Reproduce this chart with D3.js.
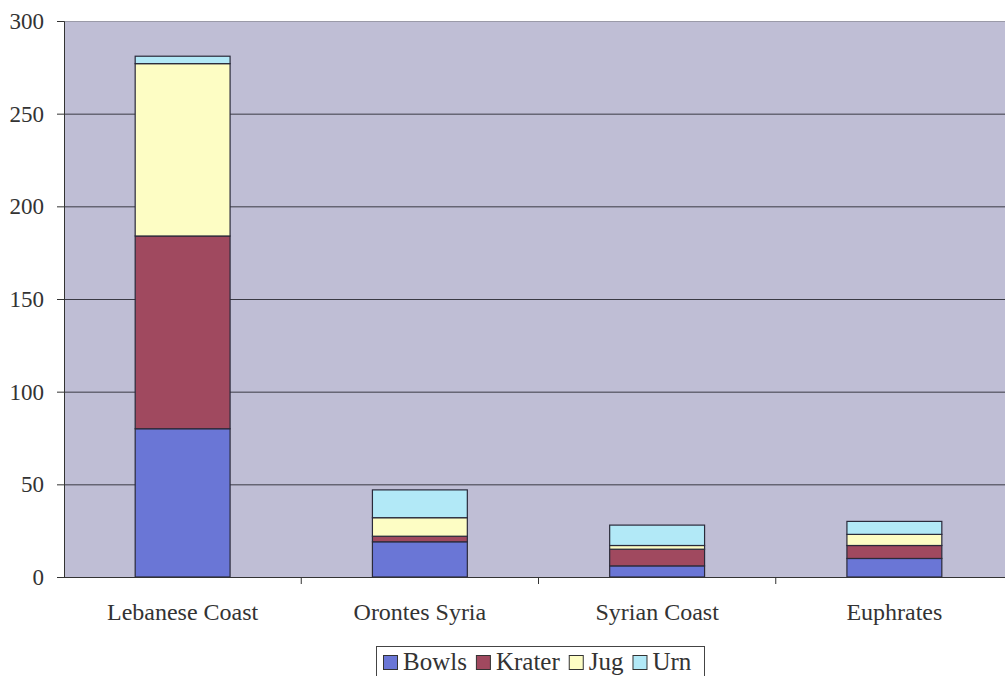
<!DOCTYPE html>
<html><head><meta charset="utf-8">
<script src="https://cdn.jsdelivr.net/npm/d3@7"></script>
<style>body{margin:0;background:#fff;overflow:hidden}svg{display:block}</style>
</head><body>
<svg id="c" width="1005" height="676" font-family="Liberation Serif"></svg>
<script>
const categories = ["Lebanese Coast", "Orontes Syria", "Syrian Coast", "Euphrates"];
const seriesNames = ["Bowls", "Krater", "Jug", "Urn"];
const bowls  = [80, 19, 6, 10];
const krater = [104, 3, 9, 7];
const jug    = [93, 10, 2, 6];
const urn    = [4, 15, 11, 7];
const yTicks = [0, 50, 100, 150, 200, 250, 300];
const colors = ["#6a76d6", "#a0495f", "#fdfdc4", "#b2e9f7"];

const seriesValues = [bowls, krater, jug, urn];
const table = categories.map((c, i) => {
  const o = {cat: c};
  seriesNames.forEach((s, j) => o[s] = seriesValues[j][i]);
  return o;
});
const stacked = d3.stack().keys(seriesNames)(table);

const FONT = "Liberation Serif";
const svg = d3.select("#c");
const L = 64, R = 1013, T = 21, B = 577;
const x = d3.scaleBand().domain(categories).range([L, R]).paddingInner(0.6).paddingOuter(0.3);
const y = d3.scaleLinear().domain([0, 300]).range([B, T]);

svg.append("rect").attr("x", L).attr("y", T).attr("width", R - L).attr("height", B - T)
  .attr("fill", "#bfbed5");
svg.append("line").attr("x1", L).attr("x2", R).attr("y1", T + 0.5).attr("y2", T + 0.5)
  .attr("stroke", "#9a9aa8").attr("stroke-width", 1);

svg.append("g").selectAll("line").data(yTicks.filter(t => t > 0 && t < 300)).join("line")
  .attr("x1", L).attr("x2", R).attr("y1", d => y(d) + 0.5).attr("y2", d => y(d) + 0.5)
  .attr("stroke", "#3a3a44").attr("stroke-width", 1);

svg.append("g").selectAll("g").data(stacked).join("g")
  .attr("fill", (d, i) => colors[i])
  .selectAll("rect").data(d => d).join("rect")
  .attr("x", d => x(d.data.cat))
  .attr("width", x.bandwidth())
  .attr("y", d => y(d[1]))
  .attr("height", d => y(d[0]) - y(d[1]))
  .attr("stroke", "#2a2a3a").attr("stroke-width", 1.2);

const yAxis = svg.append("g").attr("transform", `translate(${L},0)`)
  .call(d3.axisLeft(y).tickValues(yTicks).tickSize(7).tickPadding(13).tickFormat(d3.format("d")));
yAxis.attr("font-family", FONT);
yAxis.select(".domain").attr("stroke", "#333");
yAxis.selectAll(".tick line").attr("stroke", "#333");
yAxis.selectAll("text").attr("font-family", FONT).attr("font-size", 23).attr("fill", "#333");

const xAxis = svg.append("g").attr("transform", `translate(0,${B})`)
  .call(d3.axisBottom(x).tickSize(0).tickPadding(26));
xAxis.attr("font-family", FONT);
xAxis.select(".domain").attr("stroke", "#333").attr("d", `M${L},0.5H${R}`);
xAxis.selectAll("text").attr("font-family", FONT).attr("font-size", 24).attr("fill", "#333");
const step = x.step();
const bounds = categories.slice(1).map(c => x(c) - (step - x.bandwidth()) / 2);
xAxis.selectAll(".sep").data(bounds).join("line").attr("class", "sep")
  .attr("x1", d => d).attr("x2", d => d).attr("y1", 0).attr("y2", 7).attr("stroke", "#333");

const lg = svg.append("g");
lg.append("rect").attr("x", 376.5).attr("y", 646.5).attr("width", 328).attr("height", 34)
  .attr("fill", "#fff").attr("stroke", "#444");
let cx = 383;
seriesNames.forEach((name, i) => {
  lg.append("rect").attr("x", cx + 0.5).attr("y", 655.5).attr("width", 14).attr("height", 14)
    .attr("fill", colors[i]).attr("stroke", "#333").attr("stroke-width", 1);
  const t = lg.append("text").attr("x", cx + 20).attr("y", 670).text(name)
    .attr("font-family", FONT).attr("font-size", 25).attr("fill", "#333");
  cx = cx + 20 + t.node().getComputedTextLength() + 9;
});
</script>
</body></html>
